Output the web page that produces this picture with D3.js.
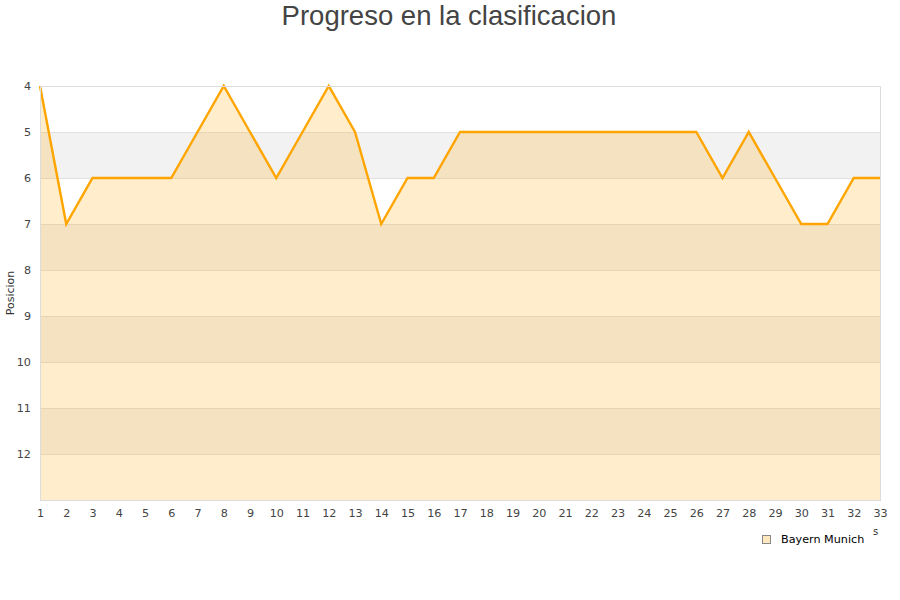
<!DOCTYPE html>
<html><head><meta charset="utf-8">
<script src="https://cdn.jsdelivr.net/npm/d3@7"></script>
<style>body{margin:0;background:#fff}</style>
</head><body>
<svg id="c" width="900" height="600"></svg>
<script>
const jornadas = d3.range(1, 34);
const posiciones = [4,7,6,6,6,6,5,4,5,6,5,4,5,7,6,6,5,5,5,5,5,5,5,5,5,5,6,5,6,7,7,6,6];
const yTicks = [4,5,6,7,8,9,10,11,12];
const bandas = [5,7,9,11];
const seriesName = "Bayern Munich";
const titulo = "Progreso en la clasificacion";

const svg = d3.select("#c");
const m = {l:40, r:20, t:86, b:100};
const W = 900, H = 600;
const x = d3.scaleLinear().domain([1,33]).range([m.l, W-m.r]);
const y = d3.scaleLinear().domain([4,13]).range([m.t, H-m.b]);

svg.append("text").attr("x",449).attr("y",25).attr("text-anchor","middle")
  .attr("font-family","Liberation Sans, Arial, sans-serif").attr("font-size",27.5).attr("fill","#444").text(titulo);

// bands
svg.selectAll(".band").data(bandas).enter().append("rect")
  .attr("x",x(1)).attr("width",x(33)-x(1))
  .attr("y",d=>y(d)).attr("height",d=>y(d+1)-y(d)).attr("fill","#f2f2f2");

// grid lines
svg.selectAll(".grid").data(yTicks.concat([13])).enter().append("line")
  .attr("x1",x(1)).attr("x2",x(33)).attr("y1",d=>y(d)).attr("y2",d=>y(d))
  .attr("stroke","#e0e0e0").attr("stroke-width",1).attr("shape-rendering","crispEdges");

const data = jornadas.map((j,i)=>({j, p:posiciones[i]}));
const area = d3.area().x(d=>x(d.j)).y0(y(13)).y1(d=>y(d.p));
svg.append("path").datum(data).attr("d",area).attr("fill","#ffa500").attr("fill-opacity",0.2);

const line = d3.line().x(d=>x(d.j)).y(d=>y(d.p));
svg.append("path").datum(data).attr("d",line).attr("fill","none").attr("stroke","#ffa500").attr("stroke-width",2.4);

// border
svg.append("rect").attr("x",x(1)).attr("y",y(4)).attr("width",x(33)-x(1)).attr("height",y(13)-y(4))
  .attr("fill","none").attr("stroke","#dcdcdc").attr("shape-rendering","crispEdges");

// y axis
const ya = svg.append("g").attr("transform",`translate(${x(1)},0)`)
  .call(d3.axisLeft(y).tickValues(yTicks).tickSize(0).tickPadding(9));
ya.select(".domain").remove();
ya.selectAll("text").attr("font-family","DejaVu Sans, sans-serif").attr("font-size",11.2).attr("fill","#444");

const xa = svg.append("g").attr("transform",`translate(0,${y(13)})`)
  .call(d3.axisBottom(x).tickValues(jornadas).tickFormat(d3.format("d")).tickSize(0).tickPadding(9));
xa.select(".domain").remove();
xa.selectAll("text").attr("font-family","DejaVu Sans, sans-serif").attr("font-size",11.2).attr("fill","#444");

svg.append("text").attr("transform","translate(14,293) rotate(-90)").attr("text-anchor","middle")
  .attr("font-family","DejaVu Sans, sans-serif").attr("font-size",11).attr("fill","#333").text("Posicion");

// legend
svg.append("rect").attr("x",762.5).attr("y",535.5).attr("width",8).attr("height",8)
  .attr("fill","#fde8c0").attr("stroke","#888").attr("stroke-width",1);
svg.append("text").attr("x",781).attr("y",543).attr("font-family","DejaVu Sans, sans-serif")
  .attr("font-size",11.2).attr("fill","#000").text(seriesName);
svg.append("text").attr("x",873).attr("y",535).attr("font-family","DejaVu Sans, sans-serif")
  .attr("font-size",10).attr("fill","#333").text("s");
</script>
</body></html>
